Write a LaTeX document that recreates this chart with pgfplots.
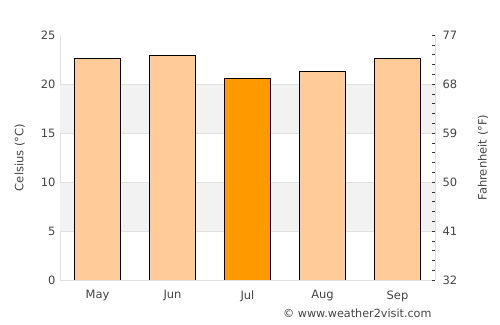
\documentclass[border=0pt]{standalone}
\usepackage{fontspec}
\setmainfont{DejaVu Sans}
\usepackage{pgfplots}
\pgfplotsset{compat=1.18}
\definecolor{lightbar}{HTML}{FFCC99}
\definecolor{darkbar}{HTML}{FF9900}
\definecolor{band}{HTML}{F2F2F2}
\definecolor{gridc}{HTML}{E0E0E0}
\definecolor{txt}{HTML}{444444}
\begin{document}
\begin{tikzpicture}
\path[use as bounding box] (-60bp,-45bp) rectangle (440bp,280bp);
\begin{axis}[at={(0bp,0bp)}, anchor=south west,
  width=375bp, height=245bp, scale only axis,
  xmin=-0.5, xmax=4.5, ymin=0, ymax=25,
  axis x line*=bottom, axis y line*=left,
  axis line style={draw=gridc, -},
  xtick={0,1,2,3,4}, xticklabels={May,Jun,Jul,Aug,Sep},
  ytick={0,5,10,15,20,25},
  major tick length=0pt,
  tick label style={font=\fontsize{11.5bp}{13bp}\selectfont, text=txt},
  /pgf/number format/assume math mode=true,
  xticklabel style={yshift=-7bp},
  yticklabel style={xshift=-1bp},
  ylabel={Celsius (°C)}, ylabel style={font=\fontsize{11.5bp}{13bp}\selectfont, text=txt},
  ylabel shift=9bp,
]
\fill[band] (axis cs:-0.5,5) rectangle (axis cs:4.5,10);
\fill[band] (axis cs:-0.5,15) rectangle (axis cs:4.5,20);
\draw[gridc, line width=0.8bp] (axis cs:-0.5,5) -- (axis cs:4.5,5);
\draw[gridc, line width=0.8bp] (axis cs:-0.5,10) -- (axis cs:4.5,10);
\draw[gridc, line width=0.8bp] (axis cs:-0.5,15) -- (axis cs:4.5,15);
\draw[gridc, line width=0.8bp] (axis cs:-0.5,20) -- (axis cs:4.5,20);
\addplot[ybar, bar shift=0pt, bar width=46bp, fill=lightbar, draw=black, line width=0.9bp]
  coordinates {(0,22.65) (1,22.95) (3,21.3) (4,22.65)};
\addplot[ybar, bar shift=0pt, bar width=46bp, fill=darkbar, draw=black, line width=0.9bp]
  coordinates {(2,20.6)};
\end{axis}
\begin{axis}[at={(0bp,0bp)}, anchor=south west,
  width=375bp, height=245bp, scale only axis,
  xmin=-0.5, xmax=4.5, ymin=32, ymax=77,
  axis x line=none, axis y line*=right,
  axis line style={draw=gridc, -},
  ytick={32,41,50,59,68,77}, minor y tick num=4,
  tick align=inside, major tick length=3bp, minor tick length=3bp,
  tick style={draw=black!80, line width=0.6bp},
  tick label style={font=\fontsize{11.5bp}{13bp}\selectfont, text=txt},
  /pgf/number format/assume math mode=true,
  yticklabel style={xshift=4bp},
  ylabel={Fahrenheit (°F)}, ylabel style={font=\fontsize{11.5bp}{13bp}\selectfont, text=txt},
  ylabel shift=14bp,
]
\addplot[draw=none] coordinates {(0,32) (4,77)};
\end{axis}
\node[anchor=east, font=\fontsize{11.2bp}{13bp}\selectfont, text=txt] at (375bp,-33bp) {© www.weather2visit.com};
\end{tikzpicture}
\end{document}
